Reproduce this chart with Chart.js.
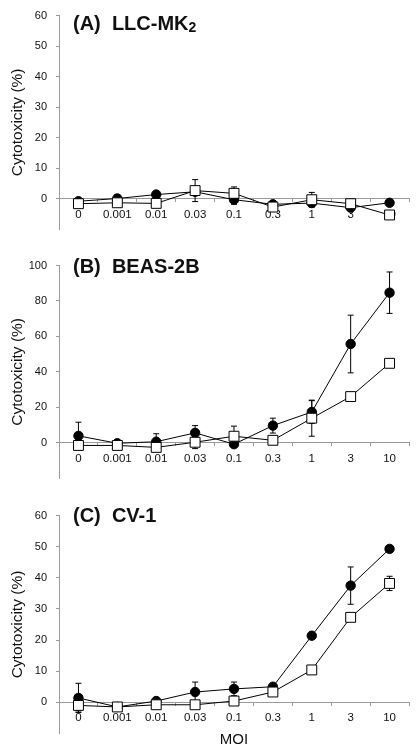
<!DOCTYPE html>
<html>
<head>
<meta charset="utf-8">
<script src="https://cdn.jsdelivr.net/npm/chart.js@4"></script>
<style>
  body { margin: 0; background: #fff; }
  #page { position: relative; width: 417px; height: 749px; overflow: hidden; }
  canvas { display: block; }
  .panelTitle {
    position: absolute; left: 73px;
    font: bold 20px "Liberation Sans", Arial, sans-serif;
    line-height: 20px; white-space: pre; color: #111;
  }
  .panelTitle sub { font-size: 14px; vertical-align: -2px; line-height: 0; }
</style>
</head>
<body>
<div id="page">
  <canvas id="chartA" width="417" height="250"></canvas>
  <canvas id="chartB" width="417" height="250"></canvas>
  <canvas id="chartC" width="417" height="249"></canvas>
  <div class="panelTitle" style="top:13px">(A)  LLC-MK<sub>2</sub></div>
  <div class="panelTitle" style="top:256px">(B)  BEAS-2B</div>
  <div class="panelTitle" style="top:505px">(C)  CV-1</div>
</div>
<script>
const moiLabels = ['0', '0.001', '0.01', '0.03', '0.1', '0.3', '1', '3', '10'];

// (A) LLC-MK2
const circlesA = [-0.9, 0, 1.3, 2.2, -0.4, -1.9, -1.5, -3.0, -1.4];
const circlesErrA = [0.5, 1.2, 0.4, 0, 1.5, 0.5, 0.5, 0.8, 0];
const squaresA = [-1.7, -1.4, -1.6, 2.6, 1.7, -2.8, -0.4, -1.7, -5.4];
const squaresErrA = [0, 0, 0, 3.6, 2.1, 0, 2.4, 0, 0];

// (B) BEAS-2B
const circlesB = [3.8, -0.4, 0.5, 5.5, -0.9, 9.6, 17.3, 55.7, 84.7];
const circlesErrB = [7.7, 1, 4.5, 4.1, 1, 4.2, 6.4, 16.3, 11.7];
const squaresB = [-1.6, -1.6, -2.7, 0.2, 3.6, 1.3, 13.8, 26, 44.8];
const squaresErrB = [0, 0, 0, 3.6, 5.7, 0, 10.2, 1.5, 0];

// (C) CV-1
const circlesC = [1.4, -1.5, 0.4, 3.3, 4.3, 5.0, 21.4, 37.5, 49.3];
const circlesErrC = [4.7, 0, 0.3, 3.2, 2.2, 0, 0, 6, 0.8];
const squaresC = [-1.0, -1.5, -0.8, -0.8, 0.4, 3.3, 10.4, 27.3, 38.2];
const squaresErrC = [1.8, 0, 0, 0, 0, 0, 0, 0, 2.3];

Chart.defaults.font.family = '"Liberation Sans", Arial, sans-serif';
Chart.defaults.color = '#111';

const AXIS_GREY = '#9a9a9a';

// error bars with caps, drawn under the markers
const errorBars = {
    id: 'errorBars',
    beforeDatasetsDraw: (chart) => {
        const ctx = chart.ctx;
        const yScale = chart.scales.y;
        ctx.save();
        ctx.strokeStyle = '#000';
        ctx.lineWidth = 1;
        chart.data.datasets.forEach((ds, i) => {
            const meta = chart.getDatasetMeta(i);
            meta.data.forEach((pt, j) => {
                const err = ds.errors[j];
                if (!err) return;
                const top = yScale.getPixelForValue(ds.data[j] + err);
                const bottom = yScale.getPixelForValue(ds.data[j] - err);
                ctx.beginPath();
                ctx.moveTo(pt.x, top);
                ctx.lineTo(pt.x, bottom);
                ctx.moveTo(pt.x - 3, top);
                ctx.lineTo(pt.x + 3, top);
                ctx.moveTo(pt.x - 3, bottom);
                ctx.lineTo(pt.x + 3, bottom);
                ctx.stroke();
            });
        });
        ctx.restore();
    }
};

const makePanel = (id, circles, circlesErr, squares, squaresErr, yMin, yMax, step, padding, showMoi) => {
    const ctx = document.getElementById(id).getContext('2d');
    return new Chart(ctx, {
        type: 'line',
        data: {
            labels: moiLabels,
            datasets: [
                {
                    data: squares, errors: squaresErr,
                    borderColor: '#000', borderWidth: 1,
                    pointStyle: 'rect', pointRadius: 7,
                    pointBackgroundColor: '#fff', pointBorderColor: '#000', pointBorderWidth: 1
                },
                {
                    data: circles, errors: circlesErr,
                    borderColor: '#000', borderWidth: 1,
                    pointStyle: 'circle', pointRadius: 4.7,
                    pointBackgroundColor: '#000', pointBorderColor: '#000', pointBorderWidth: 1
                }
            ]
        },
        options: {
            responsive: false,
            animation: false,
            layout: { padding: padding },
            plugins: { legend: { display: false }, tooltip: { enabled: false } },
            scales: {
                x: {
                    position: { y: 0 },
                    offset: true,
                    border: { color: AXIS_GREY },
                    grid: { drawOnChartArea: false, tickLength: 3, color: AXIS_GREY, offset: true },
                    ticks: { font: { size: 11.5 }, padding: 6, maxRotation: 0, autoSkip: false, color: '#111' },
                    title: { display: showMoi, text: 'MOI', font: { size: 15 }, padding: { top: 0, bottom: 0 }, color: '#111' }
                },
                y: {
                    min: yMin,
                    max: yMax,
                    border: { color: AXIS_GREY },
                    grid: {
                        drawOnChartArea: false, tickLength: 3,
                        color: (c) => (c.tick && c.tick.value < 0) ? 'rgba(0,0,0,0)' : AXIS_GREY
                    },
                    ticks: {
                        stepSize: step, font: { size: 11 }, padding: 9, color: '#111',
                        callback: (v) => v < 0 ? '' : v
                    },
                    title: { display: true, text: 'Cytotoxicity (%)', font: { size: 15.5 }, padding: { top: 8, bottom: 0 }, color: '#111' },
                    afterFit: (s) => { s.width = 59; }
                }
            }
        },
        plugins: [errorBars]
    });
};

makePanel('chartA', circlesA, circlesErrA, squaresA, squaresErrA, -10, 60, 10, { top: 10, right: 8, bottom: 21, left: 0 }, false);
makePanel('chartB', circlesB, circlesErrB, squaresB, squaresErrB, -20, 100, 20, { top: 8, right: 8, bottom: 22, left: 0 }, false);
makePanel('chartC', circlesC, circlesErrC, squaresC, squaresErrC, -10, 60, 10, { top: 8, right: 8, bottom: 12, left: 0 }, true);
</script>
</body>
</html>
